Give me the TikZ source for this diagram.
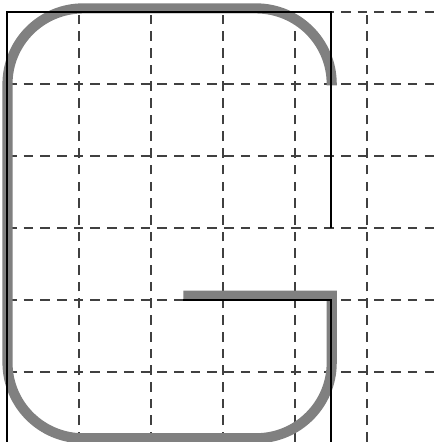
\documentclass[tikz,border=0pt]{standalone}
\usepackage{tikz}
\definecolor{gridgray}{HTML}{404040}
\definecolor{letgray}{HTML}{808080}
\tikzset{
  helpgrid/.style={draw=gridgray, line width=0.6pt, dash pattern=on 3.8pt off 2.8pt},
  letter/.style={draw=letgray, line width=4pt},
  outline/.style={draw=black, line width=0.9pt}
}

\begin{document}
\begin{tikzpicture}[x=1cm, y=1cm]
  \useasboundingbox (-0.097,-5.972) rectangle (5.986,0.1667);
  \clip (-0.097,-5.972) rectangle (5.986,0.1667);

  % grid under everything
  \foreach \gx in {0,...,6}
    \draw[helpgrid] (\gx,-6.2) -- (\gx,0);
  \foreach \gy in {0,...,5}
    \draw[helpgrid] (0,-\gy) -- (6.2,-\gy);

  % the letter
  \draw[letter] (2.45,-3.94) -- (4.51,-3.94) -- (4.51,-4.5)
    [rounded corners=1.05cm] -- (4.51,-5.92) -- (0.007,-5.92)
    -- (0.007,0.05) -- (4.51,0.05) -- (4.51,-1.02);

  % sharp outline on top
  \draw[outline] (0,-6.2) -- (0,0) -- (4.5,0) -- (4.5,-3);
  \draw[outline] (2.45,-4) -- (4.5,-4) -- (4.5,-6.2);
\end{tikzpicture}
\end{document}
